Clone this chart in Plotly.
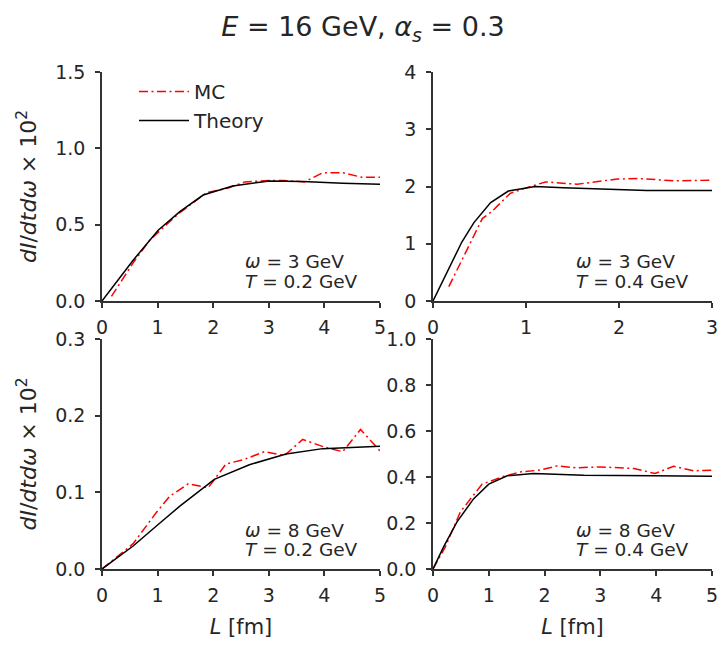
import plotly.graph_objects as go

# panel (a): omega = 3 GeV, T = 0.2 GeV
L_th_a = [0, 0.56, 1.01, 1.40, 1.82, 2.35, 3.01, 3.61, 4.33, 5.0]
th_a = [0, 0.267, 0.464, 0.585, 0.694, 0.753, 0.786, 0.782, 0.771, 0.764]
L_mc_a = [0.17, 0.56, 0.86, 1.37, 1.88, 2.27, 2.57, 3.01, 3.25, 3.64, 3.97, 4.33, 4.68, 5.0]
mc_a = [0.03, 0.25, 0.40, 0.57, 0.71, 0.74, 0.78, 0.79, 0.79, 0.78, 0.84, 0.84, 0.81, 0.81]

# panel (b): omega = 3 GeV, T = 0.4 GeV
L_th_b = [0, 0.31, 0.44, 0.62, 0.81, 1.10, 1.40, 1.87, 2.30, 3.0]
th_b = [0, 1.03, 1.37, 1.72, 1.92, 2.00, 1.98, 1.95, 1.93, 1.93]
L_mc_b = [0.17, 0.33, 0.53, 0.63, 0.83, 1.01, 1.21, 1.55, 1.98, 2.21, 2.59, 3.0]
mc_b = [0.25, 0.77, 1.44, 1.56, 1.88, 1.98, 2.08, 2.04, 2.13, 2.14, 2.10, 2.11]

# panel (c): omega = 8 GeV, T = 0.2 GeV
L_th_c = [0, 0.56, 1.01, 1.40, 2.02, 2.65, 3.31, 3.97, 5.0]
th_c = [0, 0.030, 0.058, 0.082, 0.117, 0.136, 0.150, 0.157, 0.160]
L_mc_c = [0, 0.56, 0.98, 1.22, 1.55, 1.91, 2.23, 2.56, 2.92, 3.28, 3.61, 4.0, 4.33, 4.65, 5.0]
mc_c = [0, 0.033, 0.074, 0.095, 0.111, 0.106, 0.137, 0.143, 0.153, 0.148, 0.169, 0.159, 0.153, 0.182, 0.154]

# panel (d): omega = 8 GeV, T = 0.4 GeV
L_th_d = [0, 0.19, 0.43, 0.73, 1.00, 1.33, 1.80, 2.70, 3.95, 5.0]
th_d = [0, 0.096, 0.205, 0.306, 0.369, 0.405, 0.415, 0.408, 0.405, 0.403]
L_mc_d = [0, 0.22, 0.49, 0.88, 1.27, 1.56, 1.92, 2.22, 2.58, 3.0, 3.60, 3.98, 4.31, 4.67, 5.0]
mc_d = [0, 0.096, 0.248, 0.369, 0.403, 0.422, 0.430, 0.448, 0.440, 0.444, 0.437, 0.415, 0.447, 0.427, 0.430]

omega_lbl = ["<i>ω</i> = 3 GeV", "<i>ω</i> = 3 GeV", "<i>ω</i> = 8 GeV", "<i>ω</i> = 8 GeV"]
temp_lbl = ["<i>T</i> = 0.2 GeV", "<i>T</i> = 0.4 GeV", "<i>T</i> = 0.2 GeV", "<i>T</i> = 0.4 GeV"]

panels = [(L_mc_a, mc_a, L_th_a, th_a), (L_mc_b, mc_b, L_th_b, th_b),
          (L_mc_c, mc_c, L_th_c, th_c), (L_mc_d, mc_d, L_th_d, th_d)]

W, H = 726, 653
OX, OY = 8, 8  # page body margin in the browser
TXT = "#262626"
AX = "#333333"


def px(x):
    return (x - OX) / W


def py(y):
    return 1 - (y - OY) / H


# pixel boxes (left, right, top, bottom) as seen in the reference
boxes = [(102, 380, 72, 301), (433, 712, 72, 301), (102, 380, 339, 569), (433, 712, 339, 569)]
xranges = [[0, 5], [0, 3], [0, 5], [0, 5]]
yranges = [[0, 1.5], [0, 4], [0, 0.3], [0, 1.0]]
ytickvals = [[0, 0.5, 1.0, 1.5], [0, 1, 2, 3, 4], [0, 0.1, 0.2, 0.3], [0, 0.2, 0.4, 0.6, 0.8, 1.0]]
ytickfmt = [".1f", "d", ".1f", ".1f"]
text_x = [243, 574, 243, 574]

fig = go.Figure()

for i, (lm, ym, lt, yt) in enumerate(panels):
    n = "" if i == 0 else str(i + 1)
    fig.add_trace(go.Scatter(x=lm, y=ym, mode="lines", name="MC", showlegend=(i == 0),
                             legendgroup="mc",
                             line=dict(color="red", width=1.5, dash="9px,3.5px,2px,3.5px"),
                             xaxis="x" + n, yaxis="y" + n))
    fig.add_trace(go.Scatter(x=lt, y=yt, mode="lines", name="Theory", showlegend=(i == 0),
                             legendgroup="th",
                             line=dict(color="black", width=1.5),
                             xaxis="x" + n, yaxis="y" + n))

    l, r, t, b = boxes[i]
    axis_common = dict(showline=True, linecolor=AX, linewidth=1.7, ticks="outside",
                       ticklen=5, tickwidth=1.5, tickcolor=AX, showgrid=False, zeroline=False,
                       tickfont=dict(size=19, color=TXT), fixedrange=True, automargin=False)
    xa = dict(domain=[px(l), px(r)], range=xranges[i], anchor="y" + n,
              dtick=1, tick0=0, ticklabelstandoff=3, **axis_common)
    ya = dict(domain=[py(b), py(t)], range=yranges[i], anchor="x" + n,
              tickvals=ytickvals[i], tickformat=ytickfmt[i], ticklabelstandoff=6, **axis_common)
    if i >= 2:
        xa["title"] = dict(text="<i>L</i> [fm]", font=dict(size=21, color=TXT), standoff=15)
    if i in (0, 2):
        ya["title"] = dict(text="<i>dI</i>/<i>dtdω</i> × 10<sup>2</sup>",
                           font=dict(size=22, color=TXT), standoff=12)
    fig.update_layout(**{"xaxis" + n: xa, "yaxis" + n: ya})

    fig.add_annotation(x=px(text_x[i]), y=py(b - 39), xref="paper", yref="paper",
                       text=omega_lbl[i], showarrow=False, xanchor="left", yanchor="middle",
                       font=dict(size=18.5, color=TXT))
    fig.add_annotation(x=px(text_x[i]), y=py(b - 20), xref="paper", yref="paper",
                       text=temp_lbl[i], showarrow=False, xanchor="left", yanchor="middle",
                       font=dict(size=18.5, color=TXT))

fig.update_layout(
    width=W, height=H,
    margin=dict(l=0, r=0, t=0, b=0),
    paper_bgcolor="white", plot_bgcolor="white",
    font=dict(family="DejaVu Sans", color=TXT),
    title=dict(text="<i>E</i> = 16 GeV, <i>α<sub>s</sub></i> = 0.3", x=px(363), xanchor="center",
               y=py(27), yanchor="middle", font=dict(size=27, color=TXT),
               automargin=False),
    legend=dict(x=px(134), y=py(72), xanchor="left", yanchor="top", itemwidth=50,
                font=dict(size=20, color=TXT), bgcolor="rgba(0,0,0,0)", tracegroupgap=0),
)

fig.write_html("out.html")
